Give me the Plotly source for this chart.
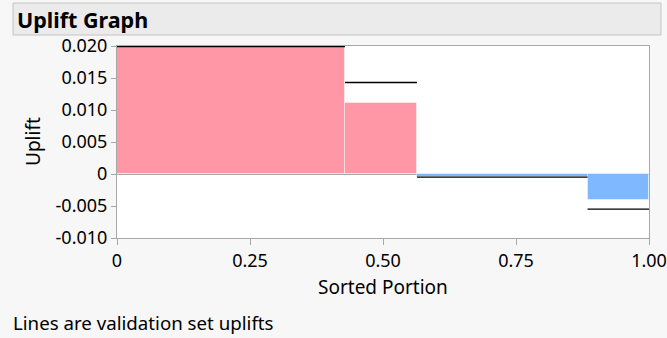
import plotly.graph_objects as go

# Data
bin_edges = [0.0, 0.4286, 0.5639, 0.8845, 1.0]
train_uplift = [0.0198, 0.0111, -0.0004, -0.0041]
valid_uplift = [0.0199, 0.0143, -0.0005, -0.0055]
x_ticks = [0, 0.25, 0.5, 0.75, 1.0]
x_ticklabels = ["0", "0.25", "0.50", "0.75", "1.00"]
y_ticks = [0.020, 0.015, 0.010, 0.005, 0, -0.005, -0.010]
y_ticklabels = ["0.020", "0.015", "0.010", "0.005", "0", "-0.005", "-0.010"]

FONT = "Noto Sans"
mids = [(a + b) / 2 for a, b in zip(bin_edges[:-1], bin_edges[1:])]
widths = [b - a for a, b in zip(bin_edges[:-1], bin_edges[1:])]
colors = ["#FF97A6" if v >= 0 else "#7FB8FF" for v in train_uplift]

fig = go.Figure()
fig.add_trace(go.Bar(
    x=mids, y=train_uplift, width=widths, base=0,
    marker=dict(color=colors, line=dict(color="rgba(255,255,255,0.45)", width=1)),
    hoverinfo="skip", showlegend=False,
))

lx, ly = [], []
for a, b, v in zip(bin_edges[:-1], bin_edges[1:], valid_uplift):
    lx += [a, b, None]
    ly += [v, v, None]
fig.add_trace(go.Scatter(x=lx, y=ly, mode="lines",
                         line=dict(color="black", width=1.3),
                         hoverinfo="skip", showlegend=False))

L, R, T, B = 117, 18, 46, 100
W, H = 667, 338
pw, ph = W - L - R, H - T - B

def px(x):
    return (x - L) / pw

def py(y):
    return (H - B - y) / ph

fig.update_layout(
    width=W, height=H,
    margin=dict(l=L, r=R, t=T, b=B, autoexpand=False),
    paper_bgcolor="#F7F7F7", plot_bgcolor="white",
    font=dict(family=FONT, size=18, color="black"),
    bargap=0,
    xaxis=dict(range=[0, 1], tickvals=x_ticks, ticktext=x_ticklabels, automargin=False,
               showgrid=False, zeroline=False, showline=True, mirror=True,
               linecolor="#A8A8A8", linewidth=1, ticks="outside", ticklen=6,
               tickcolor="#A8A8A8", tickfont=dict(size=18)),
    yaxis=dict(range=[-0.010, 0.020], tickvals=y_ticks, ticktext=y_ticklabels, automargin=False,
               showgrid=False, zeroline=True, zerolinecolor="#A8A8A8", zerolinewidth=1,
               showline=True, mirror=True,
               linecolor="#A8A8A8", linewidth=1, ticks="outside", ticklen=5,
               tickcolor="#A8A8A8", tickfont=dict(size=18)),
    shapes=[dict(type="rect", xref="paper", yref="paper",
                 x0=px(13), x1=px(661), y0=py(35), y1=py(3),
                 fillcolor="#EBEBEB", line=dict(color="#C4C4C4", width=1), layer="below")],
    annotations=[
        dict(text="<b>Uplift Graph</b>", xref="paper", yref="paper", x=px(15), y=py(19),
             xanchor="left", yanchor="middle", showarrow=False, font=dict(size=21.5, family=FONT)),
        dict(text="Uplift", xref="paper", yref="paper", x=px(33), y=py(142),
             xanchor="center", yanchor="middle", textangle=-90, showarrow=False,
             font=dict(size=19, family=FONT)),
        dict(text="Sorted Portion", xref="paper", yref="paper", x=px(383), y=py(287),
             xanchor="center", yanchor="middle", showarrow=False, font=dict(size=19, family=FONT)),
        dict(text="Lines are validation set uplifts", xref="paper", yref="paper", x=px(11), y=py(322),
             xanchor="left", yanchor="middle", showarrow=False, font=dict(size=18.7, family=FONT)),
    ],
)

fig.write_html("out.html")
